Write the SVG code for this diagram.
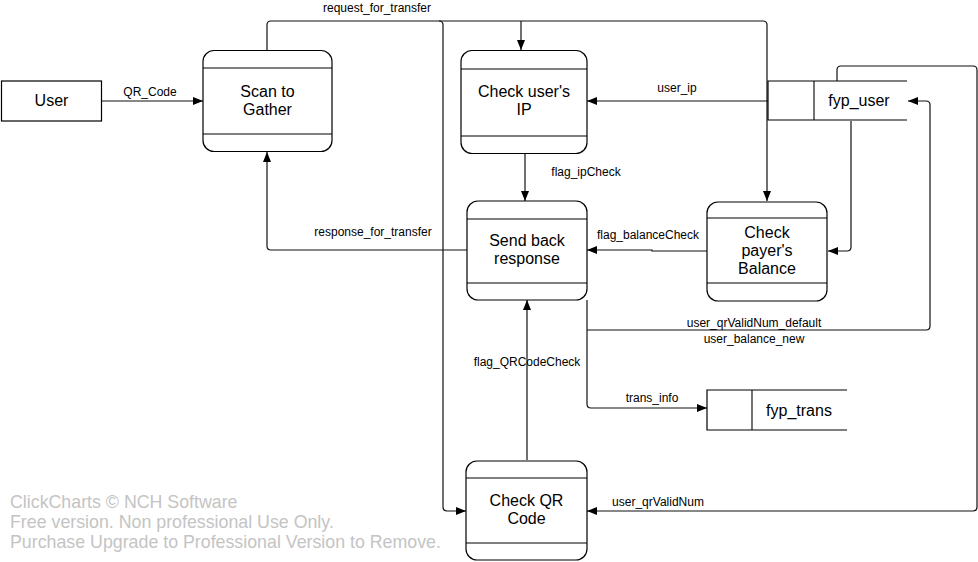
<svg xmlns="http://www.w3.org/2000/svg" width="978" height="562" viewBox="0 0 978 562">
<style>
.box{fill:#fff;stroke:#000;stroke-width:1.2}
.hl{stroke:#000;stroke-width:1.1}
.nt{font-family:"Liberation Sans",Arial,sans-serif;font-size:16px;fill:#000;text-anchor:middle}
.lb{font-family:"Liberation Sans",Arial,sans-serif;font-size:12px;fill:#000;text-anchor:middle}
.cn{fill:none;stroke:#111;stroke-width:1.2}
.wm{font-family:"Liberation Sans",Arial,sans-serif;font-size:17.8px;fill:#c4c4c4}
</style>
<defs>
<marker id="ah" viewBox="0 0 10 10" refX="10" refY="5" markerWidth="10" markerHeight="10" markerUnits="userSpaceOnUse" orient="auto">
<path d="M0,1 L10,5 L0,9 Z" fill="#000"/>
</marker>
</defs>
<rect width="978" height="562" fill="#fff"/>

<g id="connectors">
<path class="cn" d="M267,50 V25 Q267,21 271,21 H763 Q767,21 767,25 V201" marker-end="url(#ah)"/>
<path class="cn" d="M521,21 V50" marker-end="url(#ah)"/>
<path class="cn" d="M439,21 Q443,21 443,25 V507 Q443,511 447,511 H466" marker-end="url(#ah)"/>
<path class="cn" d="M102,101 H203" marker-end="url(#ah)"/>
<path class="cn" d="M768,101 H587" marker-end="url(#ah)"/>
<path class="cn" d="M525,154 V201" marker-end="url(#ah)"/>
<path class="cn" d="M707,251 H652 V250 H587" marker-end="url(#ah)"/>
<path class="cn" d="M467,250 H271 Q267,250 267,246 V152" marker-end="url(#ah)"/>
<path class="cn" d="M851,121 V247 Q851,251 847,251 H828" marker-end="url(#ah)"/>
<path class="cn" d="M587,330 H926 Q930,330 930,326 V105 Q930,101 926,101 H908" marker-end="url(#ah)"/>
<path class="cn" d="M587,300 V404 Q587,408 591,408 H707" marker-end="url(#ah)"/>
<path class="cn" d="M527,460 V300" marker-end="url(#ah)"/>
<path class="cn" d="M837,81 V70 Q837,66 841,66 H973 Q977,66 977,70 V507 Q977,511 973,511 H587" marker-end="url(#ah)"/>
<text class="lb" x="377" y="12">request_for_transfer</text>
<text class="lb" x="150" y="96">QR_Code</text>
<text class="lb" x="677" y="92">user_ip</text>
<text class="lb" x="586" y="176">flag_ipCheck</text>
<text class="lb" x="648" y="239">flag_balanceCheck</text>
<text class="lb" x="373" y="236">response_for_transfer</text>
<text class="lb" x="754" y="327">user_qrValidNum_default</text>
<text class="lb" x="754" y="343">user_balance_new</text>
<text class="lb" x="652" y="402">trans_info</text>
<text class="lb" x="527" y="366">flag_QRCodeCheck</text>
<text class="lb" x="658" y="506">user_qrValidNum</text>
</g>

<g id="user">
<rect class="box" x="1.5" y="81" width="100" height="40"/>
<text class="nt" x="51.5" y="106">User</text>
</g>

<g id="scan">
<rect class="box" x="203" y="50.5" width="129" height="101" rx="11"/>
<line class="hl" x1="203" y1="68" x2="332" y2="68"/>
<line class="hl" x1="203" y1="134" x2="332" y2="134"/>
<text class="nt" x="267.5" y="97">Scan to</text>
<text class="nt" x="267.5" y="115">Gather</text>
</g>

<g id="checkip">
<rect class="box" x="461" y="50.5" width="126" height="103" rx="11"/>
<line class="hl" x1="461" y1="69" x2="587" y2="69"/>
<line class="hl" x1="461" y1="136" x2="587" y2="136"/>
<text class="nt" x="524" y="97">Check user's</text>
<text class="nt" x="524" y="115">IP</text>
</g>

<g id="fyp_user">
<path class="box" d="M907,81 H768 V120 H907"/>
<line class="hl" x1="814" y1="81" x2="814" y2="120"/>
<text class="nt" x="859" y="106">fyp_user</text>
</g>

<g id="sendback">
<rect class="box" x="467" y="201" width="120" height="99" rx="11"/>
<line class="hl" x1="467" y1="219" x2="587" y2="219"/>
<line class="hl" x1="467" y1="283" x2="587" y2="283"/>
<text class="nt" x="527" y="246">Send back</text>
<text class="nt" x="527" y="264">response</text>
</g>

<g id="balance">
<rect class="box" x="707" y="202" width="120" height="99" rx="11"/>
<line class="hl" x1="707" y1="218" x2="827" y2="218"/>
<line class="hl" x1="707" y1="283" x2="827" y2="283"/>
<text class="nt" x="767" y="238">Check</text>
<text class="nt" x="767" y="256">payer's</text>
<text class="nt" x="767" y="274">Balance</text>
</g>

<g id="fyp_trans">
<path class="box" d="M847,390 H707 V430 H847"/>
<line class="hl" x1="752" y1="390" x2="752" y2="430"/>
<text class="nt" x="799" y="416">fyp_trans</text>
</g>

<g id="checkqr">
<rect class="box" x="466" y="461" width="121" height="99" rx="11"/>
<line class="hl" x1="466" y1="478" x2="587" y2="478"/>
<line class="hl" x1="466" y1="543" x2="587" y2="543"/>
<text class="nt" x="526.5" y="506">Check QR</text>
<text class="nt" x="526.5" y="524">Code</text>
</g>

<g id="watermark">
<text class="wm" x="10" y="508">ClickCharts © NCH Software</text>
<text class="wm" x="10" y="528">Free version. Non professional Use Only.</text>
<text class="wm" x="10" y="548">Purchase Upgrade to Professional Version to Remove.</text>
</g>
</svg>
